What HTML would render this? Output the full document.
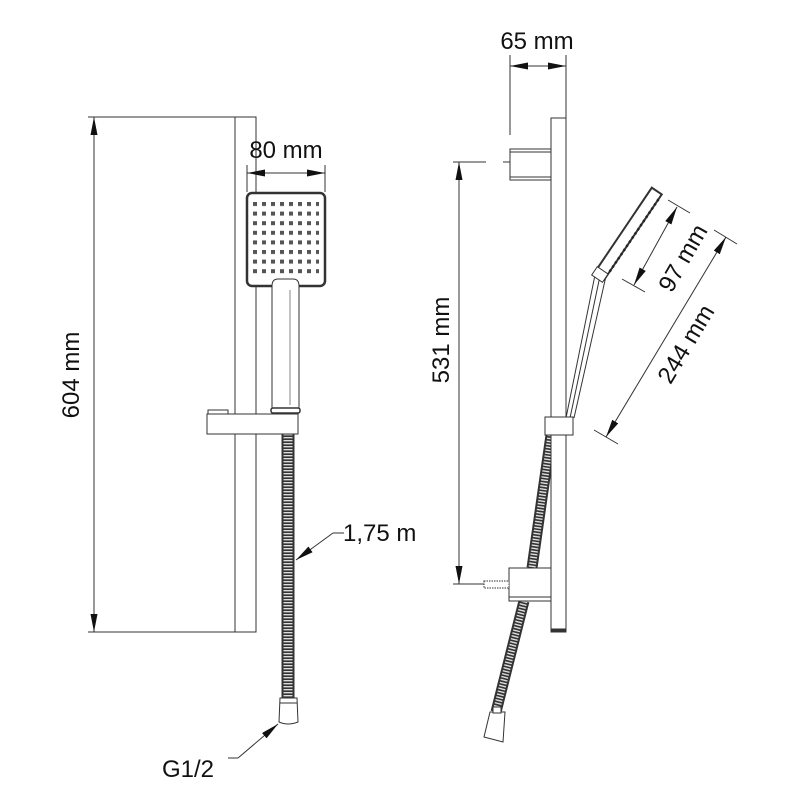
<!DOCTYPE html>
<html><head><meta charset="utf-8"><style>html,body{margin:0;padding:0;background:#fff}svg{display:block}</style></head>
<body>
<svg width="800" height="800" viewBox="0 0 800 800" xmlns="http://www.w3.org/2000/svg" font-family="Liberation Sans, sans-serif">
<defs>
<marker id="a" viewBox="0 0 18 7" refX="18" refY="3.5" markerWidth="18" markerHeight="7" orient="auto-start-reverse" markerUnits="userSpaceOnUse"><path d="M0,0 L18,3.5 L0,7 z" fill="#111"/></marker>
<pattern id="dots" x="253" y="202" width="9" height="9.6" patternUnits="userSpaceOnUse"><rect width="4" height="4" fill="#555"/></pattern>
</defs>
<g stroke="#333" stroke-width="1" fill="none">
<!-- LEFT VIEW -->
<line x1="88" y1="117" x2="235" y2="117"/>
<line x1="88" y1="632" x2="235" y2="632"/>
<line x1="94" y1="117" x2="94" y2="632" marker-start="url(#a)" marker-end="url(#a)"/>
<rect x="235" y="117" width="21" height="515" fill="#fff"/>
<line x1="247" y1="165" x2="247" y2="192"/>
<line x1="325" y1="165" x2="325" y2="192"/>
<line x1="247" y1="173" x2="325" y2="173" marker-start="url(#a)" marker-end="url(#a)"/>
<!-- hose left -->
<line x1="288" y1="434" x2="288" y2="698" stroke="#333" stroke-width="13"/>
<line x1="288" y1="434" x2="288" y2="698" stroke="#ddd" stroke-width="9" stroke-dasharray="1.4 1.6"/>
<path d="M280,698 L297,698 L298,722 Q288,726 279,722 Z" fill="#fff"/>
<line x1="280" y1="703" x2="297" y2="703"/>
<rect x="247" y="193" width="78" height="93" rx="5" stroke-width="2.5" fill="#fff"/>
<rect x="253" y="202" width="66" height="76" fill="url(#dots)" stroke="none"/>
<path d="M272,410 L272,286 Q272,279 278,279 L293,279 Q299,279 299,286 L299,410" fill="#fff"/>
<line x1="290" y1="290" x2="290" y2="405" stroke-width="0.6"/>
<rect x="271" y="408" width="29" height="5" rx="2" fill="#fff" stroke-width="1.5"/>
<rect x="208" y="410" width="20" height="5" fill="#fff"/>
<rect x="207" y="414" width="91" height="20" fill="#fff"/>
<path d="M333,533 L344,533"/>
<line x1="333" y1="533" x2="296" y2="560" marker-end="url(#a)"/>
<path d="M228,758 L238,758"/>
<line x1="238" y1="758" x2="278" y2="724" marker-end="url(#a)"/>
<!-- RIGHT VIEW -->
<line x1="510" y1="55" x2="510" y2="135"/>
<line x1="566" y1="55" x2="566" y2="118"/>
<line x1="510" y1="66" x2="566" y2="66" marker-start="url(#a)" marker-end="url(#a)"/>
<line x1="453" y1="162" x2="486" y2="162"/>
<line x1="503" y1="162" x2="525" y2="162"/>
<line x1="453" y1="584" x2="510" y2="584"/>
<line x1="459" y1="162" x2="459" y2="584" marker-start="url(#a)" marker-end="url(#a)"/>
<!-- hose right -->
<path d="M551,435 L532,568 M524,601 L496,712" stroke="#333" stroke-width="11"/>
<path d="M551,435 L532,568 M524,601 L496,712" stroke="#ddd" stroke-width="7" stroke-dasharray="1.4 1.6"/>
<path d="M490,712 L505,712 L503,742 L484,737 Z" fill="#fff"/>
<rect x="493" y="707" width="8" height="6" fill="#fff"/>
<rect x="551" y="118" width="15" height="514" fill="#fff"/>
<line x1="551" y1="630" x2="566" y2="630" stroke-width="3"/>
<rect x="510" y="149" width="41" height="31" fill="#fff"/>
<line x1="510" y1="152" x2="551" y2="152"/>
<line x1="510" y1="177" x2="551" y2="177"/>
<!-- handle -->
<path d="M566,418 L595,275 L606,276 L574,418" fill="#fff"/>
<line x1="570" y1="418" x2="600" y2="276"/>
<rect x="545" y="417" width="28" height="18" fill="#fff"/>
<g transform="translate(600,277) rotate(-56)">
<rect x="0" y="-7" width="103" height="12" fill="#fff" stroke-width="2"/>
<line x1="10" y1="5" x2="100" y2="5" stroke="#222" stroke-width="2.5" stroke-dasharray="2 3"/>
<rect x="-3" y="-8" width="10" height="13" fill="#fff"/>
</g>
<!-- lower mount -->
<rect x="509" y="568" width="42" height="33" fill="#fff"/>
<line x1="509" y1="597" x2="551" y2="597"/>
<rect x="484" y="581" width="25" height="7" fill="#fff" stroke-dasharray="1.5 1"/>
<!-- 97/244 dims -->
<line x1="668" y1="200" x2="690" y2="213"/>
<line x1="622" y1="279" x2="645" y2="292"/>
<line x1="677" y1="207" x2="634" y2="285" marker-start="url(#a)" marker-end="url(#a)"/>
<line x1="714" y1="230" x2="737" y2="244"/>
<line x1="594" y1="430" x2="618" y2="444"/>
<line x1="726" y1="237" x2="606" y2="437" marker-start="url(#a)" marker-end="url(#a)"/>
</g>
<g fill="#111" font-size="24">
<text x="71" y="375" text-anchor="middle" transform="rotate(-90 71 375)" dy="8">604 mm</text>
<text x="286" y="158" text-anchor="middle">80 mm</text>
<text x="343" y="541">1,75 m</text>
<text x="162" y="777">G1/2</text>
<text x="537" y="49" text-anchor="middle">65 mm</text>
<text x="441" y="340" text-anchor="middle" transform="rotate(-90 441 340)" dy="8">531 mm</text>
<text x="683" y="258" text-anchor="middle" transform="rotate(-60 683 258)" dy="8">97 mm</text>
<text x="686" y="344" text-anchor="middle" transform="rotate(-59 686 344)" dy="8">244 mm</text>
</g>
</svg>
</body></html>
